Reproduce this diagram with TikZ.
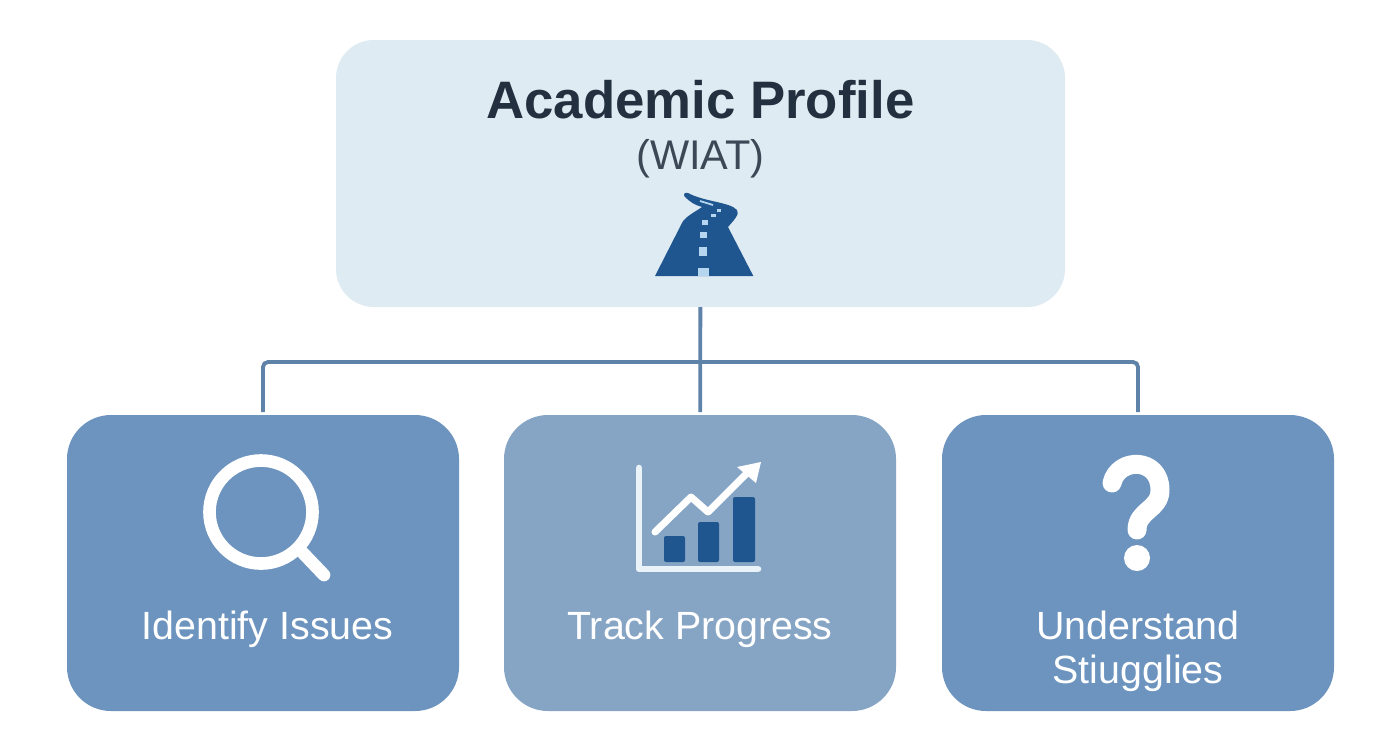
\documentclass[tikz,border=0pt]{standalone}
\usepackage{fontspec}
\setmainfont{Liberation Sans}
\definecolor{topfill}{HTML}{DFEBF2}
\definecolor{sidefill}{HTML}{6C94BF}
\definecolor{midfill}{HTML}{86A5C5}
\definecolor{linkblue}{HTML}{5F82A8}
\definecolor{roadblue}{HTML}{1F5690}
\definecolor{dashblue}{HTML}{B5D6EE}
\definecolor{inkdark}{HTML}{22303F}
\definecolor{inkgray}{HTML}{3C4855}
\definecolor{axiswhite}{HTML}{EAF3F8}
\tikzset{
  panel/.style={rectangle, rounded corners=0.44cm, minimum width=3.92cm, minimum height=2.96cm, outer sep=0pt},
  caption/.style={text=white, font=\fontsize{11.2}{12.5}\selectfont, align=center},
  link/.style={draw=linkblue, line width=1.1pt, shorten >=0.03cm},
  iconline/.style={draw=white, line cap=round, line join=round},
}
\begin{document}
\begin{tikzpicture}
    \useasboundingbox (0, 0) rectangle (13.92, 7.52);
    \fill[white] (0, 0) rectangle (13.92, 7.52);

    % Nodes
    \node (profile) [rectangle, rounded corners=0.38cm, fill=topfill, minimum width=7.29cm, minimum height=2.67cm, outer sep=0pt] at (7.005, 5.785) {};
    \node (issues) [panel, fill=sidefill] at (2.63, 1.89) {};
    \node (progress) [panel, fill=midfill] at (7.00, 1.89) {};
    \node (struggles) [panel, fill=sidefill] at (11.38, 1.89) {};
    \coordinate (bus) at (7.00, 3.90);

    % Labels
    \node (title) [text=inkdark, font=\fontsize{15}{18}\selectfont\bfseries] at (7.005, 6.52) {Academic Profile};
    \node (wiat) [text=inkgray, font=\fontsize{11.8}{14}\selectfont] at (7.005, 5.93) {(WIAT)};
    \node (issuestext) [caption] at (2.675, 1.23) {Identify Issues};
    \node (progresstext) [caption] at (7.00, 1.23) {Track Progress};
    \node (strugglestext) [caption] at (11.38, 1.01) {Understand\\Stiugglies};

    % Edges
    \draw[link] (profile) -- (progress);
    \draw[link, rounded corners=0.05cm, shorten <=0.03cm] (issues.north) |- (bus) -| (struggles.north);

    % Magnifier
    \draw[iconline, line width=3.6pt] (2.61, 2.40) circle (0.515);
    \draw[iconline, line width=3.6pt] (3.03, 1.99) -- (3.24, 1.77);

    % Road
    \fill[roadblue] (6.55, 4.76) -- (7.533, 4.76) -- (7.28, 5.25)
        .. controls (7.34, 5.32) and (7.40, 5.38) .. (7.37, 5.42)
        .. controls (7.30, 5.50) and (7.05, 5.50) .. (6.88, 5.59)
        .. controls (6.84, 5.60) and (6.83, 5.57) .. (6.85, 5.55)
        .. controls (6.90, 5.50) and (6.95, 5.47) .. (7.02, 5.45)
        .. controls (6.95, 5.40) and (6.88, 5.37) .. (6.83, 5.31) -- cycle;
    \foreach \px/\py/\pw/\ph in {7.03/4.76/0.11/0.08, 7.03/4.96/0.08/0.09, 7.03/5.14/0.07/0.06, 7.05/5.27/0.06/0.05, 7.13/5.35/0.05/0.03, 7.19/5.40/0.04/0.03}
        \fill[dashblue] (\px-\pw/2, \py) rectangle (\px+\pw/2, \py+\ph);
    \draw[dashblue, line width=0.5pt] (7.00, 5.51) -- (7.13, 5.47);

    % Chart
    \draw[draw=axiswhite, line cap=round, line join=round, line width=1.9pt] (6.39, 2.84) -- (6.39, 1.83) -- (7.58, 1.83);
    \fill[roadblue, rounded corners=0.02cm] (6.64, 1.90) rectangle (6.85, 2.16);
    \fill[roadblue, rounded corners=0.02cm] (6.98, 1.90) rectangle (7.19, 2.30);
    \fill[roadblue, rounded corners=0.02cm] (7.33, 1.90) rectangle (7.55, 2.55);
    \draw[iconline, line width=2pt] (6.55, 2.20) -- (6.91, 2.55) -- (7.08, 2.40) -- (7.47, 2.79);
    \fill[white] (7.61, 2.90) -- (7.37, 2.85) -- (7.56, 2.69) -- cycle;

    % Question mark
    \draw[iconline, line width=5.4pt] (11.12, 2.69) .. controls (11.18, 2.95) and (11.60, 2.95) .. (11.60, 2.62)
        .. controls (11.60, 2.42) and (11.37, 2.42) .. (11.37, 2.22);
    \fill[white] (11.37, 1.94) circle (0.13);
\end{tikzpicture}
\end{document}
